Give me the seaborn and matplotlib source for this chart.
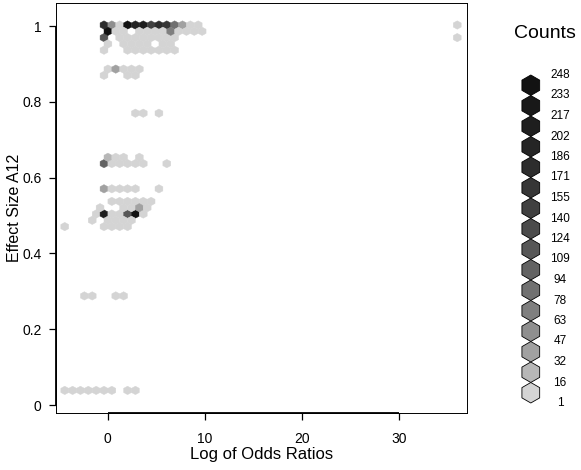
import numpy as np
import matplotlib
matplotlib.use("Agg")
import matplotlib.pyplot as plt
from matplotlib.colors import ListedColormap, BoundaryNorm
from matplotlib.patches import RegularPolygon
import seaborn as sns

sns.set_theme(style="ticks")
plt.rcParams["font.family"] = ["Liberation Sans", "DejaVu Sans"]

# Hexagon-binned observations: log odds ratio, A12 effect size and count per cell
log_odds = [
    # A12 ~ 1.00
    -0.38, 0.43, 1.23, 2.04, 2.85, 3.66, 4.46, 5.27, 6.08, 6.89, 7.70, 8.50, 9.31, 35.96,
    # A12 ~ 0.986
    0.02, 0.83, 1.64, 3.25, 4.06, 4.87, 5.68, 6.48, 7.29, 8.10, 8.90, 9.71,
    # A12 ~ 0.969
    -0.38, 1.23, 2.04, 2.85, 3.66, 4.46, 5.27, 6.08, 6.89, 35.96,
    # A12 ~ 0.953
    0.02, 1.64, 2.45, 3.25, 4.06, 5.68, 6.48,
    # A12 ~ 0.936
    -0.38, 2.04, 2.85, 3.66, 4.46, 5.27, 6.08, 6.89,
    # A12 ~ 0.886
    0.02, 0.83, 1.64, 2.45, 3.25,
    # A12 ~ 0.870
    -0.38, 2.04, 2.85,
    # A12 ~ 0.770
    2.85, 3.66, 5.27,
    # A12 ~ 0.654
    0.02, 0.83, 1.64, 3.25,
    # A12 ~ 0.637
    -0.38, 0.43, 1.23, 2.04, 2.85, 3.66, 6.08,
    # A12 ~ 0.570
    -0.38, 0.43, 1.23, 2.04, 2.85, 5.27,
    # A12 ~ 0.537
    0.43, 1.23, 2.04, 2.85, 3.66, 4.46,
    # A12 ~ 0.521
    -0.78, 1.64, 2.45, 3.25, 4.06,
    # A12 ~ 0.504
    -1.19, -0.38, 0.43, 1.23, 2.04, 2.85, 3.66,
    # A12 ~ 0.487
    -1.59, 0.02, 0.83, 1.64, 2.45,
    # A12 ~ 0.471
    -4.42, -0.38, 0.43, 1.23, 2.04,
    # A12 ~ 0.288
    -2.40, -1.59, 0.83, 1.64,
    # A12 ~ 0.038
    -4.42, -3.61, -2.80, -2.00, -1.19, -0.38, 0.43, 2.04, 2.85,
]

a12 = (
    [1.003] * 14 + [0.986] * 12 + [0.969] * 10 + [0.953] * 7 + [0.936] * 8
    + [0.886] * 5 + [0.870] * 3 + [0.770] * 3 + [0.654] * 4 + [0.637] * 7
    + [0.570] * 6 + [0.537] * 6 + [0.521] * 5 + [0.504] * 7 + [0.487] * 5
    + [0.471] * 5 + [0.288] * 4 + [0.038] * 9
)

counts = [
    180, 60, 6, 240, 192, 205, 150, 176, 158, 86, 40, 7, 4, 3,
    248, 9, 12, 10, 14, 8, 11, 70, 13, 6, 5, 3,
    110, 5, 9, 13, 7, 11, 6, 4, 2, 2,
    4, 6, 9, 12, 8, 5, 3,
    3, 4, 7, 6, 9, 5, 4, 2,
    5, 35, 8, 10, 6,
    4, 6, 5,
    3, 2, 2,
    25, 6, 9, 5,
    100, 7, 11, 8, 12, 6, 4,
    42, 9, 12, 10, 7, 4,
    8, 10, 12, 9, 7, 5,
    6, 9, 9, 38, 7,
    6, 205, 9, 12, 112, 244, 8,
    5, 10, 13, 8, 6,
    4, 7, 9, 6, 5,
    3, 4, 3, 2,
    5, 4, 6, 3, 5, 7, 4, 3, 2,
]

# Legend breaks for the count scale
count_breaks = [1, 16, 32, 47, 63, 78, 94, 109, 124, 140, 155, 171, 186, 202, 217, 233, 248]
gray_levels = [212, 183, 161, 143, 127, 113, 99, 87, 75, 64, 54, 45, 37, 30, 24, 18]

x_ticks = [0, 10, 20, 30]
y_ticks = [0, 0.2, 0.4, 0.6, 0.8, 1]
y_ticklabels = ["0", "0.2", "0.4", "0.6", "0.8", "1"]

palette = [f"#{g:02x}{g:02x}{g:02x}" for g in gray_levels]
cmap = ListedColormap(palette)
norm = BoundaryNorm(count_breaks, ncolors=len(palette))

W, H = 581, 470
fig = plt.figure(figsize=(W / 100, H / 100), dpi=100)
ax = fig.add_axes([56 / W, 1 - 413 / H, (467 - 56) / W, (413 - 3) / H])

# hexagonal grid: 52 columns, 33 rows across the extent
sx, sy = 0.8076, 0.033246
xmin, ymin = -5.2266, -0.027992
extent = (xmin, xmin + 52 * sx, ymin, ymin + 33 * sy)
ax.hexbin(log_odds, a12, C=counts, reduce_C_function=np.sum,
          gridsize=(52, 33), extent=extent, cmap=cmap, norm=norm,
          linewidths=0.3, edgecolors="face")

ax.set_xlim(-5.319, 36.965)
ax.set_ylim(-0.0211, 1.0607)
ax.set_xticks(x_ticks)
ax.set_xticklabels([str(t) for t in x_ticks])
ax.set_yticks(y_ticks)
ax.set_yticklabels(y_ticklabels)
ax.tick_params(axis="both", direction="out", length=5, width=0.9,
               color="black", labelsize=10, labelcolor="black")
ax.tick_params(axis="x", pad=9)
ax.tick_params(axis="y", pad=5.5)
ax.grid(False)
for sp in ax.spines.values():
    sp.set_visible(True)
    sp.set_color("black")
    sp.set_linewidth(0.7)

# axis lines spanning the first to last tick
ax.plot([x_ticks[0], x_ticks[-1]], [0, 0], transform=ax.get_xaxis_transform(),
        color="black", lw=1.3, clip_on=False, solid_capstyle="butt")
ax.plot([0, 0], [y_ticks[0], y_ticks[-1]], transform=ax.get_yaxis_transform(),
        color="black", lw=1.3, clip_on=False, solid_capstyle="butt")

fig.text(261.5 / W, 1 - 454 / H, "Log of Odds Ratios", ha="center", va="center",
         fontsize=12, color="black")
fig.text(15 / W, 1 - 208 / H, "Effect Size A12", ha="center", va="center",
         rotation=90, fontsize=11.5, color="black")

# legend of hexagon colours
lax = fig.add_axes([0, 0, 1, 1], zorder=5)
lax.set_xlim(0, W)
lax.set_ylim(H, 0)
lax.axis("off")
lax.patch.set_alpha(0)
lax.text(545, 33, "Counts", ha="center", va="center", fontsize=14, color="black")
step = 20.5
y_bottom = 403
for i, col in enumerate(palette):
    cy = y_bottom - step * (i + 0.5)
    lax.add_patch(RegularPolygon((530.8, cy), numVertices=6, radius=step / 2,
                                 orientation=0, facecolor=col, edgecolor="black",
                                 linewidth=0.6))
for i, b in enumerate(count_breaks):
    lax.text(560, y_bottom - step * i, str(b), ha="center", va="center",
             fontsize=8.5, color="black")

fig.savefig("out.png", dpi=100, facecolor="white")
